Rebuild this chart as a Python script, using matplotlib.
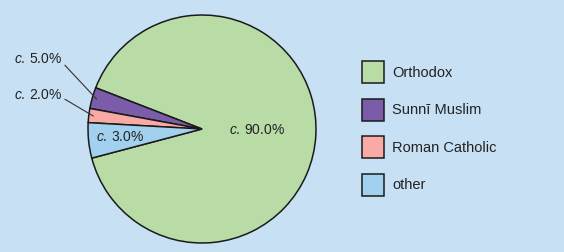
import numpy as np
import matplotlib
matplotlib.use('Agg')
import matplotlib.pyplot as plt

plt.rcParams['font.family'] = ['Liberation Sans', 'DejaVu Sans']
plt.rcParams['mathtext.fontset'] = 'custom'
plt.rcParams['mathtext.rm'] = 'Liberation Sans'
plt.rcParams['mathtext.it'] = 'Liberation Sans:italic'

# data (slice sizes as drawn, labels as printed)
religions = ['Orthodox', 'Sunnī Muslim', 'Roman Catholic', 'other']
shares = [90, 3, 2, 5]
share_labels = ['90.0%', '5.0%', '2.0%', '3.0%']
colors = ['#b9dba6', '#7a5ca9', '#f9aaa5', '#a2d1ef']
bg = '#c7e0f4'

fig = plt.figure(figsize=(5.64, 2.52), dpi=100)
fig.patch.set_facecolor(bg)

# pie axes: center ~(202,129) px, radius ~114 px
ax = fig.add_axes([88 / 564, 9 / 252, 228 / 564, 228 / 252])
ax.set_facecolor(bg)
wedges, _ = ax.pie(shares, colors=colors, startangle=-165.2, counterclock=True,
                   wedgeprops=dict(edgecolor='#1a1a1a', linewidth=1.1))
ax.set_xlim(-1, 1)
ax.set_ylim(-1, 1)
ax.set_aspect('equal')
ax.axis('off')

fs = 10
def lab(s):
    return r'$\it{c.}\,$' + s

# big slice label
ax.text(0.235, -0.01, lab(share_labels[0]), ha='left', va='center', fontsize=fs, color='#222222')
# other, inside slice
ax.text(-0.93, -0.07, lab(share_labels[3]), ha='left', va='center', fontsize=fs, color='#222222')

# outside labels with leader lines
for i, ty in [(1, 0.61), (2, 0.30)]:
    w = wedges[i]
    ang = np.deg2rad((w.theta1 + w.theta2) / 2)
    px, py = 0.96 * np.cos(ang), 0.96 * np.sin(ang)
    ax.annotate(lab(share_labels[i]), xy=(px, py), xytext=(-1.65, ty),
                ha='left', va='center', fontsize=fs, color='#222222',
                annotation_clip=False,
                arrowprops=dict(arrowstyle='-', color='#333333', lw=0.8,
                                shrinkA=0, shrinkB=0,
                                relpos=(1.0, 0.3)))

leg = fig.legend(wedges, religions, loc='upper left',
                 bbox_to_anchor=(362 / 564, 1 - 61 / 252),
                 frameon=False, fontsize=10.5, borderpad=0, borderaxespad=0,
                 handlelength=1.5, handleheight=1.94, handletextpad=0.55,
                 labelspacing=1.07)
for t in leg.get_texts():
    t.set_color('#222222')

plt.savefig('out.png', dpi=100, facecolor=bg)
